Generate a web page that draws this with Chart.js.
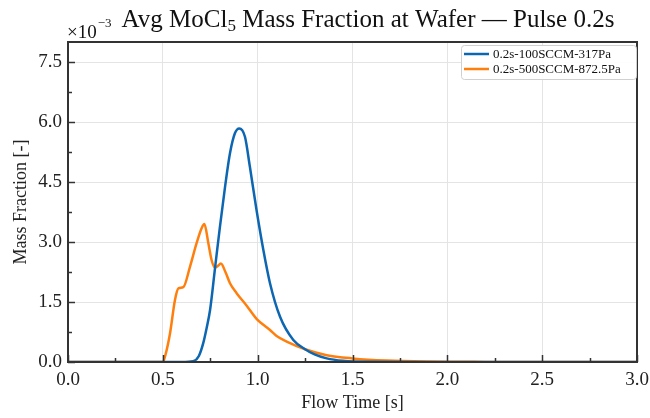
<!DOCTYPE html>
<html lang="en">
<head>
  <meta charset="UTF-8" />
  <title>Avg MoCl5 Mass Fraction at Wafer</title>
  <script src="https://cdn.jsdelivr.net/npm/chart.js"></script>
  <style>
    body { margin: 0; background: #fff; }
    #wrap { width: 650px; height: 418px; position: relative; }
  </style>
</head>
<body>
  <div id="wrap"><canvas id="chart"></canvas></div>

  <script>
    // values are in units of 1e-3
    const seriesNames = ['0.2s-100SCCM-317Pa', '0.2s-500SCCM-872.5Pa'];
    const seriesColors = ['#0d66b2', '#ff7f0e'];

    const blueTime = [0, 0.60, 0.66, 0.69, 0.713, 0.731, 0.749, 0.775, 0.801, 0.828, 0.854, 0.880, 0.903, 0.933, 0.959, 0.994, 1.03, 1.065, 1.118, 1.188, 1.25, 1.30, 1.364, 1.45, 1.6, 2.0, 3.0];
    const blueValues = [0, 0, 0.02, 0.15, 0.47, 0.85, 1.3, 2.34, 3.38, 4.38, 5.22, 5.72, 5.84, 5.63, 4.88, 3.8, 2.8, 1.97, 1.13, 0.55, 0.32, 0.19, 0.09, 0.03, 0.005, 0, 0];

    const orangeTime = [0, 0.50, 0.515, 0.538, 0.564, 0.582, 0.608, 0.643, 0.678, 0.705, 0.719, 0.74, 0.757, 0.775, 0.79, 0.806, 0.83, 0.854, 0.889, 0.94, 0.994, 1.065, 1.10, 1.153, 1.25, 1.364, 1.5, 1.68, 1.9, 2.2, 3.0];
    const orangeValues = [0, 0, 0.2, 0.72, 1.55, 1.84, 1.87, 2.38, 2.97, 3.35, 3.45, 2.97, 2.55, 2.36, 2.40, 2.46, 2.25, 1.97, 1.72, 1.42, 1.08, 0.8, 0.65, 0.51, 0.32, 0.17, 0.09, 0.035, 0.01, 0.003, 0];

    const xTicks = [0, 0.5, 1.0, 1.5, 2.0, 2.5, 3.0];
    const yTicks = [0, 1.5, 3.0, 4.5, 6.0, 7.5];

    const serif = "'Liberation Serif', 'Times New Roman', serif";

    const pts = (xs, ys) => xs.map((x, i) => ({ x: x, y: ys[i] }));

    // box, inward ticks, title, exponent, legend
    const decor = {
      id: 'decor',
      afterDraw(chart) {
        const ctx = chart.ctx;
        const a = chart.chartArea;
        const xs = chart.scales.x, ys = chart.scales.y;
        ctx.save();
        ctx.strokeStyle = '#333';
        ctx.lineWidth = 1.5;
        // x ticks
        for (let v = 0; v <= 3.0001; v += 0.25) {
          const px = Math.round(xs.getPixelForValue(v)) + 0.5;
          const len = Math.abs(v / 0.5 - Math.round(v / 0.5)) < 1e-6 ? 7 : 4;
          ctx.beginPath(); ctx.moveTo(px, a.bottom); ctx.lineTo(px, a.bottom - len); ctx.stroke();
        }
        // y ticks
        for (let v = 0; v <= 7.5001; v += 0.75) {
          const py = Math.round(ys.getPixelForValue(v)) + 0.5;
          const len = Math.abs(v / 1.5 - Math.round(v / 1.5)) < 1e-6 ? 7 : 4;
          ctx.beginPath(); ctx.moveTo(a.left, py); ctx.lineTo(a.left + len, py); ctx.stroke();
        }
        ctx.lineWidth = 2;
        ctx.strokeRect(a.left, a.top, a.right - a.left, a.bottom - a.top);

        // title
        ctx.fillStyle = '#111';
        ctx.textBaseline = 'alphabetic';
        const big = '25px ' + serif, small = '17px ' + serif;
        const p1 = 'Avg MoCl', p2 = '5', p3 = ' Mass Fraction at Wafer \u2014 Pulse 0.2s';
        ctx.font = big; const w1 = ctx.measureText(p1).width, w3 = ctx.measureText(p3).width;
        ctx.font = small; const w2 = ctx.measureText(p2).width;
        let tx = 368 - (w1 + w2 + w3) / 2;
        ctx.textAlign = 'left';
        ctx.font = big; ctx.fillText(p1, tx, 27); tx += w1;
        ctx.font = small; ctx.fillText(p2, tx, 31); tx += w2;
        ctx.font = big; ctx.fillText(p3, tx, 27);

        // exponent
        ctx.font = '19px ' + serif;
        ctx.fillText('\u00d710', 67, 38);
        const ew = ctx.measureText('\u00d710').width;
        ctx.font = '13px ' + serif;
        ctx.fillText('\u22123', 67 + ew + 1, 27);

        // legend
        const lx = 461, ly = 45, lw = 175, lh = 34;
        ctx.fillStyle = 'rgba(255,255,255,0.9)';
        ctx.strokeStyle = '#d0d0d0';
        ctx.lineWidth = 1;
        ctx.beginPath();
        ctx.roundRect(lx + 0.5, ly + 0.5, lw, lh, 3);
        ctx.fill(); ctx.stroke();
        ctx.font = '13px ' + serif;
        ctx.textBaseline = 'middle';
        seriesNames.forEach((name, i) => {
          const yy = ly + 9 + i * 15;
          ctx.strokeStyle = seriesColors[i];
          ctx.lineWidth = 2.5;
          ctx.beginPath(); ctx.moveTo(lx + 3, yy); ctx.lineTo(lx + 28, yy); ctx.stroke();
          ctx.fillStyle = '#111';
          ctx.fillText(name, lx + 32, yy + 1);
        });
        ctx.restore();
      }
    };

    new Chart(document.getElementById('chart'), {
      type: 'scatter',
      data: {
        datasets: [
          { label: seriesNames[0], data: pts(blueTime, blueValues), borderColor: seriesColors[0] },
          { label: seriesNames[1], data: pts(orangeTime, orangeValues), borderColor: seriesColors[1] }
        ]
      },
      options: {
        responsive: true,
        maintainAspectRatio: false,
        animation: false,
        showLine: true,
        elements: {
          point: { radius: 0 },
          line: { borderWidth: 2.5, cubicInterpolationMode: 'monotone', fill: false }
        },
        layout: { padding: { top: 42, right: 13, left: 0, bottom: 0 } },
        plugins: { legend: { display: false }, tooltip: { enabled: false } },
        scales: {
          x: {
            type: 'linear', min: 0, max: 3,
            afterBuildTicks: s => { s.ticks = xTicks.map(v => ({ value: v })); },
            afterFit: s => { s.height = 56; s.paddingLeft = 0; s.paddingRight = 0; },
            grid: { color: '#e4e4e4', lineWidth: 1, drawTicks: false },
            border: { display: false },
            ticks: { padding: 7, color: '#222', font: { family: serif, size: 19 }, callback: v => v.toFixed(1) },
            title: { display: true, text: 'Flow Time [s]', color: '#222', font: { family: serif, size: 18 }, padding: { top: 0 } }
          },
          y: {
            type: 'linear', min: 0, max: 8,
            afterBuildTicks: s => { s.ticks = yTicks.map(v => ({ value: v })); },
            afterFit: s => { s.width = 68; s.paddingTop = 0; s.paddingBottom = 0; },
            grid: { color: '#e4e4e4', lineWidth: 1, drawTicks: false },
            border: { display: false },
            ticks: { padding: 6, color: '#222', font: { family: serif, size: 19 }, callback: v => v.toFixed(1) },
            title: { display: true, text: 'Mass Fraction [-]', color: '#222', font: { family: serif, size: 18 }, padding: { top: 10, bottom: 0 } }
          }
        }
      },
      plugins: [decor]
    });
  </script>
</body>
</html>
